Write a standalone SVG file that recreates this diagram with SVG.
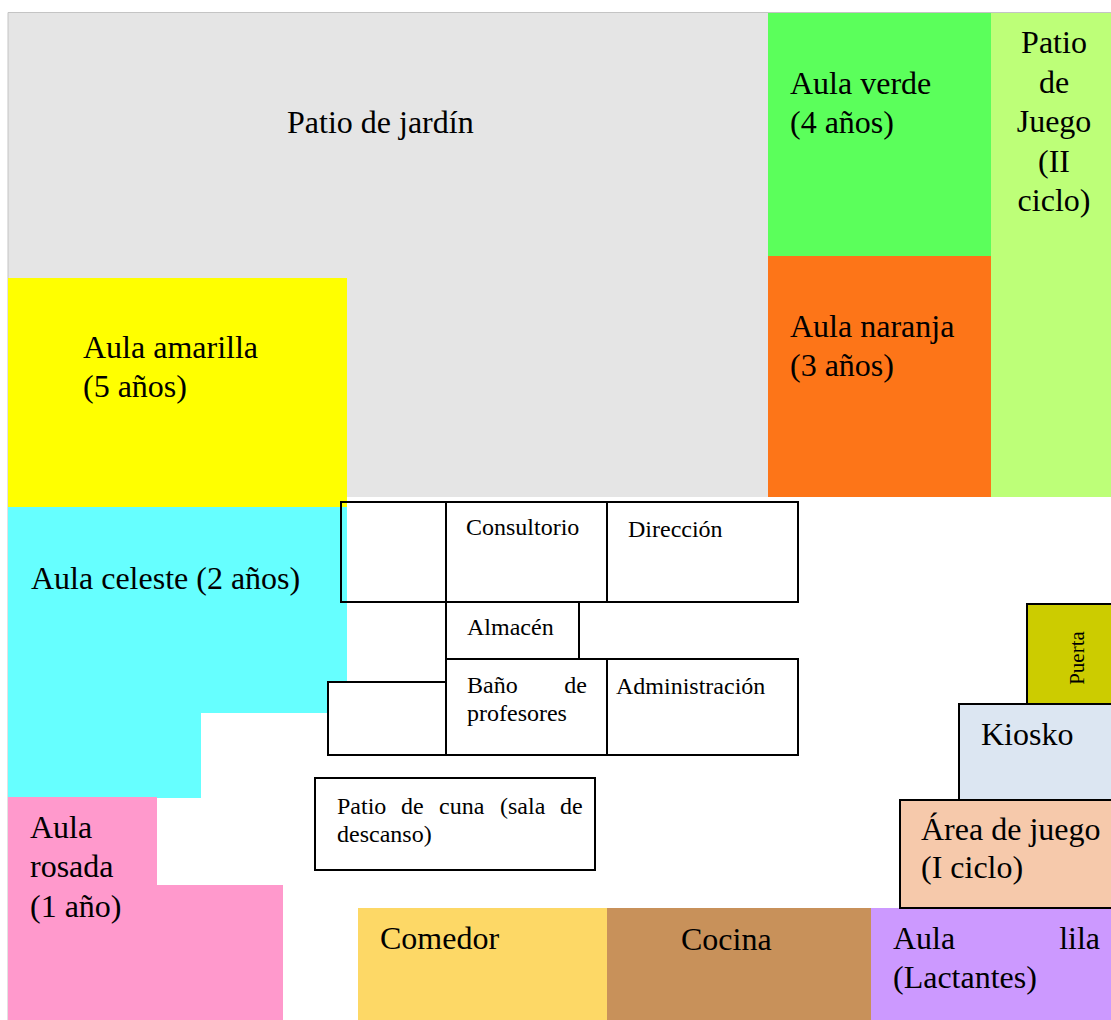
<svg xmlns="http://www.w3.org/2000/svg" width="1111" height="1020" viewBox="0 0 1111 1020" font-family="'Liberation Serif', 'Times New Roman', Times, 'DejaVu Serif', serif">
<style>
text{font-family:'Liberation Serif','Times New Roman',Times,'DejaVu Serif',serif;fill:#000}
.l{font-size:32px}
.s{font-size:24px}
.box{stroke:#000;stroke-width:2}
</style>
<rect width="1111" height="1020" fill="#fff"/>
<g id="patio-jardin">
<rect x="8" y="12" width="760" height="485" fill="#e5e5e5"/>
<text class="l" x="287" y="133">Patio de jardín</text>
</g>
<g id="aula-verde">
<rect x="768" y="12" width="223" height="244" fill="#5bff5b"/>
<text class="l" x="790" y="94">Aula verde</text>
<text class="l" x="790" y="133">(4 años)</text>
</g>
<g id="aula-naranja">
<rect x="768" y="256" width="223" height="241" fill="#fd7518"/>
<text class="l" x="790" y="337">Aula naranja</text>
<text class="l" x="790" y="376">(3 años)</text>
</g>
<g id="patio-juego">
<rect x="991" y="12" width="120" height="485" fill="#bdff78"/>
<text class="l" x="1054" y="53" text-anchor="middle">Patio</text>
<text class="l" x="1054" y="93" text-anchor="middle">de</text>
<text class="l" x="1054" y="132" text-anchor="middle">Juego</text>
<text class="l" x="1054" y="172" text-anchor="middle">(II</text>
<text class="l" x="1054" y="211" text-anchor="middle">ciclo)</text>
</g>
<path d="M8,1020V12.5H1111" fill="none" stroke="#c4c4c4" stroke-width="1"/>
<g id="aula-amarilla">
<rect x="8" y="278" width="339" height="229" fill="#ffff00"/>
<text class="l" x="83" y="358">Aula amarilla</text>
<text class="l" x="83" y="397">(5 años)</text>
</g>
<g id="aula-celeste">
<path d="M8,507H347V713H201V798H8Z" fill="#66ffff"/>
<text class="l" x="31" y="589">Aula celeste (2 años)</text>
</g>
<g id="aula-rosada">
<path d="M8,797H157V885H283V1020H8Z" fill="#ff99cc"/>
<text class="l" x="30" y="838">Aula</text>
<text class="l" x="30" y="877">rosada</text>
<text class="l" x="30" y="917">(1 año)</text>
</g>
<g id="sala-vacia-1">
<rect class="box" x="341" y="502" width="105" height="100" fill="none"/>
</g>
<g id="consultorio">
<rect class="box" x="446" y="502" width="161" height="100" fill="#fff"/>
<text class="s" x="466" y="535">Consultorio</text>
</g>
<g id="direccion">
<rect class="box" x="607" y="502" width="191" height="100" fill="#fff"/>
<text class="s" x="628" y="537">Dirección</text>
</g>
<g id="almacen">
<rect class="box" x="446" y="602" width="133" height="57" fill="#fff"/>
<text class="s" x="467" y="635">Almacén</text>
</g>
<g id="sala-vacia-2">
<rect class="box" x="328" y="682" width="118" height="73" fill="#fff"/>
</g>
<g id="bano-profesores">
<rect class="box" x="446" y="659" width="161" height="96" fill="#fff"/>
<text class="s" x="467" y="693">Baño</text>
<text class="s" x="587" y="693" text-anchor="end">de</text>
<text class="s" x="467" y="721">profesores</text>
</g>
<g id="administracion">
<rect class="box" x="607" y="659" width="191" height="96" fill="#fff"/>
<text class="s" x="616" y="694">Administración</text>
</g>
<g id="patio-cuna">
<rect class="box" x="315" y="778" width="280" height="92" fill="#fff"/>
<text class="s" y="814"><tspan x="337">Patio </tspan><tspan x="401">de </tspan><tspan x="439">cuna </tspan><tspan x="500">(sala </tspan><tspan x="560">de</tspan></text>
<text class="s" x="337" y="842">descanso)</text>
</g>
<g id="comedor">
<rect x="358" y="908" width="249" height="112" fill="#fdd866"/>
<text class="l" x="380" y="949">Comedor</text>
</g>
<g id="cocina">
<rect x="607" y="908" width="264" height="112" fill="#c8915a"/>
<text class="l" x="681" y="950">Cocina</text>
</g>
<g id="aula-lila">
<rect x="871" y="908" width="240" height="112" fill="#cc99ff"/>
<text class="l" x="893" y="949">Aula</text>
<text class="l" x="1100" y="949" text-anchor="end">lila</text>
<text class="l" x="893" y="988">(Lactantes)</text>
</g>
<g id="puerta">
<rect class="box" x="1027" y="604" width="90" height="100" fill="#cccc00"/>
<text x="0" y="0" font-size="21" text-anchor="middle" transform="translate(1084,658) rotate(-90)">Puerta</text>
</g>
<g id="kiosko">
<rect class="box" x="959" y="704" width="160" height="96" fill="#dce6f2"/>
<text class="l" x="981" y="745">Kiosko</text>
</g>
<g id="area-juego">
<rect class="box" x="900" y="800" width="220" height="108" fill="#f6c9ab"/>
<text class="l" x="921" y="840">Área de juego</text>
<text class="l" x="921" y="878">(I ciclo)</text>
</g>
</svg>
